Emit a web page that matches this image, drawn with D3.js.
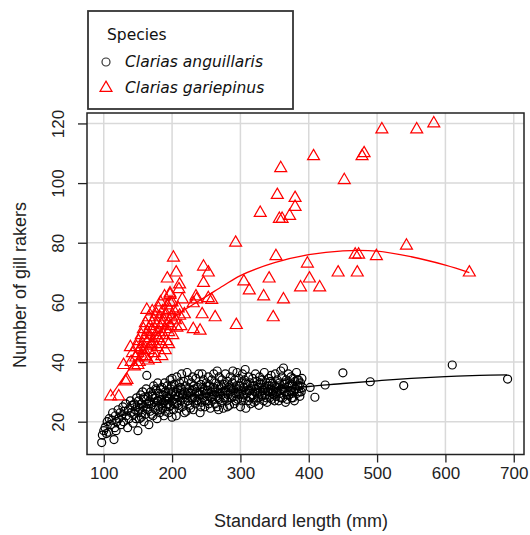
<!DOCTYPE html>
<html>
<head>
<meta charset="utf-8">
<script src="https://cdn.jsdelivr.net/npm/d3@7"></script>
<style>
  body { margin: 0; background: #fff; }
  svg { display: block; }
</style>
</head>
<body>
<svg width="530" height="535"></svg>
<script>
// tick labels
var xTicks = [100, 200, 300, 400, 500, 600, 700];
var yTicks = [20, 40, 60, 80, 100, 120];
var speciesNames = ["Clarias anguillaris", "Clarias gariepinus"];

// Clarias anguillaris: [standard length, gill rakers]
var anguillaris = [
  [97,13],[98,15.5],[100,17],[102,18],[104,16],[105,20],[107,16.5],[108,21],[110,19],[112,20.5],
  [113,23],[115,14],[116,18],[117,22],[119,20],[118,17],
  [121,24],[122,21],[124,23],[125,19],[126,22],[128,25],[129,20],[130,23.5],[132,26],[133,22],
  [135,18],[136,24],[137,21],[139,27],[140,23],[141,25.5],[143,19.5],[144,22.5],[145,26],[146,24],
  [147,21],[148,28],[149,25],[150,17],[150,23],
  [151,27],[152,21],[153,24.5],[154,29],[155,26],[156,23],[157,30],[158,25],[159,20],[160,27.5],
  [161,22.5],[162,31],[163,35.5],[163,26],[164,24],[165,28.5],[166,19],[167,27],[168,23.5],[169,30],
  [170,25.5],[171,29],[172,22],[173,32],[174,26.5],[175,28],[176,24],[177,30.5],[178,21],[178,27],
  [179,33],[180,25],[181,29.5],[182,23],[183,31],[184,27.5],[185,26],[185,31.5],[186,24.5],[187,29],
  [188,22],[189,33],[190,27],[190,30],[191,25],[192,28.5],[193,32],[194,26],[195,23],[195,30],
  [196,28],[197,34],[198,25.5],[198,31],[199,29],[200,21.5],[200,27],[200,34.5],
  [201,30],[202,24],[203,32.5],[204,27.5],[205,29],[206,22],[207,35],[207,26],[208,31],[209,28.5],
  [210,24.5],[211,33],[212,29.5],[213,27],[214,36],[214,31],[215,25],[216,28],[217,33.5],[218,30],
  [219,26.5],[220,32],[221,23.5],[222,36.5],[222,29],[223,27],[224,34],[225,31],[226,25.5],[227,29.5],
  [228,33],[229,27.5],[230,35],[230,30.5],[231,24],[232,32],[233,28],[234,26],[235,34.5],[236,30],
  [237,31.5],[238,27],[239,36],[240,29],[241,23],[242,32.5],[243,26.5],[244,36],[244,30],[245,28],
  [246,34],[247,31],[248,25],[249,29.5],[250,33],
  [251,27],[252,30.5],[253,35],[254,28.5],[255,32],[256,24.5],[257,30],[258,34],[259,27.5],[260,31.5],
  [261,36],[262,29],[263,26],[264,33],[265,30],[266,37],[267,28],[268,32],[268,24],[269,35],
  [270,29.5],[271,31],[272,26.5],[273,34],[274,30],[275,24.5],[276,32.5],[277,28],[278,36],[279,30.5],
  [280,27],[281,33.5],[282,29],[283,31.5],[284,25.5],[285,35],[286,30],[287,28],[288,33],[289,37],
  [290,31],[291,26],[292,34],[293,29.5],[294,32],[295,36.5],[296,27.5],[297,31],[298,34.5],[299,29],
  [300,25],
  [301,33],[302,30],[303,36],[304,28],[305,31.5],[306,34],[307,37.5],[308,24.5],[309,29.5],[310,32.5],
  [311,27],[312,35],[313,30.5],[314,33],[315,26],[316,31],[317,29],[318,34.5],[319,28],[320,32],
  [321,30],[322,36],[323,27],[324,33.5],[325,29.5],[326,31.5],[327,25.5],[328,35],[329,30],[330,32.5],
  [331,28.5],[332,34],[333,30.5],[334,27],[335,36.5],[336,31],[337,29],[338,33],[339,26.5],[340,30],
  [341,34.5],[342,32],[343,28],[344,31],[345,35.5],[346,27.5],[347,33],[348,30.5],[349,29],[350,32],
  [351,36],[352,28.5],[353,31.5],[354,34],[355,30],[356,27],[357,33],[358,29.5],[359,37],[360,31],
  [361,35],[362,28],[363,38],[364,32.5],[365,30],[366,26.5],[367,34],[368,27.5],[369,31.5],[370,36],
  [371,29],[372,33],[373,30.5],[374,35],[375,28],[376,32],[377,34.5],[378,30],[379,27],[380,33.5],
  [381,31],[382,36.5],[383,29.5],[384,32],[385,34],[386,30],[387,28.5],[388,33],[390,34.5],[391,31.5],
  [155,21.5],[158,28],[162,24.5],[166,26],[170,22.5],[172,28.5],[176,31],[180,27],[183,24],[187,26.5],
  [190,23.5],[193,28],[196,25],[199,32],[203,26],[206,30],[209,25.5],[212,31.5],[215,29],[218,23],
  [221,28],[224,30],[227,24.5],[230,28],[233,31],[236,27],[239,29.5],[242,25],[245,31.5],[248,27],
  [251,32],[254,26],[257,28],[260,29],[263,31],[266,25],[269,27.5],[272,32],[275,28],[278,30],
  [281,25],[284,32],[287,31],[290,28.5],[293,27],[296,30],[299,32],[302,27],[305,29],[308,33],
  [311,30.5],[314,28],[317,32],[320,26.5],[323,31],[326,28],[329,33],[332,29],[335,31.5],[338,28],
  [341,30],[344,33.5],[347,29.5],[350,27],[353,30],[356,32],[359,28],[362,31],[365,33],[368,29],
  [371,32],[374,30],[377,28],[380,31],[383,34],[386,32],[389,30],
  [402,31.5],[409,28.2],[424,32.3],[450,36.4],[490,33.4],[539,32.1],[610,39],[691,34.3]
];

// Clarias gariepinus: [standard length, gill rakers]
var gariepinus = [
  [507,118],[558,118],[583,120],[407,109],[478,109],[481,110],[452,101],[359,105],[354,96],[380,95],
  [380,92],[372,89],[361,88],[357,88],[329,90],[293,80],[543,79],[468,76],[473,76],[499,75.5],
  [635,70],[398,73],[443,70],[471,70],[401,68],[388,65],[416,65],[202,75],[352,75.5],[206,70],
  [246,72],[253,70],[193,68],[246,66.5],[211,66],[210,64.4],[305,67],[342,68],[313,64],[334,62],
  [363,61],[235,62],[197,62.5],[197,60],[163,57.5],[231,59.7],[236,61],[253,61.4],[258,60.8],[244,56],
  [263,55],[348,55],[294,52.4],[231,51],[241,50.5],[110,28.5],[122,28.5],[134,34],[129,39],[132,33.5],
  [139,45],
  [140,40],[142,43],[145,38.5],[147,41.5],[148,45],[150,43],[151,47],[152,40],[154,44.5],[155,49],
  [156,42],[157,46],[158,51],[159,44],[160,48],[161,53],[162,41.5],[163,46.5],[164,50],[165,44],
  [166,55],[167,48],[168,52],[169,45.5],[170,50.5],[171,57],[172,47],[173,54],[174,43],[175,51],
  [176,49],[177,56],[178,45],[179,53],[180,58],[180,48],[181,50],[182,55],[183,60],[184,46],
  [185,52.5],[186,57],[187,49],[188,54],[189,62],[190,51],[191,56],[192,47],[193,59],[194,53],
  [195,50],[196,57.5],[197,63],[198,52],[199,55],[200,60],[201,49],[203,57],[205,54],[207,51.5],
  [209,58],[211,55.5],[213,52],[215,61],[218,56],[160,42],[170,46],[150,39],[175,41],[185,42],
  [190,44],[165,40.5],[195,46]
];

// fitted curves
var anguillarisFitX = [97, 120, 150, 200, 250, 300, 350, 400, 450, 500, 550, 600, 650, 690];
var anguillarisFitY = [19, 21.5, 24.5, 27.5, 29.3, 30.5, 31.3, 31.8, 32.8, 33.7, 34.5, 35.1, 35.5, 35.7];
var gariepinusFitX = [110, 125, 140, 160, 180, 200, 225, 250, 275, 300, 350, 400, 450, 500, 550, 600, 635];
var gariepinusFitY = [28.5, 33.5, 38.5, 44.5, 50, 54.5, 58.5, 62, 65.6, 69, 73.3, 76, 77.3, 77.2, 75.3, 72.5, 70];

var plotLeft = 87, plotRight = 524, plotTop = 113, plotBottom = 454.5;
var svg = d3.select("svg");

var xs = d3.scaleLinear().domain([75.5, 715]).range([plotLeft, plotRight]);
var ys = d3.scaleLinear().domain([9, 123.5]).range([plotBottom, plotTop]);

// grid
var grid = svg.append("g").attr("stroke", "#d9d9d9").attr("stroke-width", 1.5);
grid.selectAll(".gx").data(xTicks).enter().append("line")
    .attr("x1", function(d){return xs(d)}).attr("x2", function(d){return xs(d)})
    .attr("y1", plotTop).attr("y2", plotBottom);
grid.selectAll(".gy").data(yTicks).enter().append("line")
    .attr("x1", plotLeft).attr("x2", plotRight)
    .attr("y1", function(d){return ys(d)}).attr("y2", function(d){return ys(d)});

// axes
var xAxis = svg.append("g")
    .attr("transform", "translate(0," + plotBottom + ")")
    .call(d3.axisBottom(xs).tickValues(xTicks).tickSize(8).tickPadding(4));
var yAxis = svg.append("g")
    .attr("transform", "translate(" + plotLeft + ",0)")
    .call(d3.axisLeft(ys).tickValues(yTicks).tickSize(9));
[xAxis, yAxis].forEach(function(a){
  a.select(".domain").remove();
  a.selectAll("line").attr("stroke", "#222").attr("stroke-width", 1.3);
  a.selectAll("text").attr("font-family", "'Liberation Sans', Arial, sans-serif")
    .attr("font-size", 17).attr("fill", "#222");
});
yAxis.selectAll("text")
    .attr("transform", "rotate(-90)")
    .attr("x", 0).attr("y", -23).attr("dy", 0)
    .attr("text-anchor", "middle");

// frame
svg.append("rect")
    .attr("x", plotLeft).attr("y", plotTop)
    .attr("width", plotRight - plotLeft).attr("height", plotBottom - plotTop)
    .attr("fill", "none").attr("stroke", "#222").attr("stroke-width", 1.5);

// points
svg.append("g").selectAll("circle").data(anguillaris).enter().append("circle")
    .attr("cx", function(d){return xs(d[0])})
    .attr("cy", function(d){return ys(d[1])})
    .attr("r", 4)
    .attr("fill", "none").attr("stroke", "#000").attr("stroke-width", 1.2);

var tri = d3.symbol().type(d3.symbolTriangle).size(62);
svg.append("g").selectAll("path").data(gariepinus).enter().append("path")
    .attr("d", tri)
    .attr("transform", function(d){return "translate(" + xs(d[0]) + "," + ys(d[1]) + ")"})
    .attr("fill", "none").attr("stroke", "#ff0000").attr("stroke-width", 1.2);

// fitted lines
var line = d3.line()
    .x(function(d){return xs(d[0])})
    .y(function(d){return ys(d[1])})
    .curve(d3.curveCatmullRom);
svg.append("path")
    .attr("d", line(d3.zip(anguillarisFitX, anguillarisFitY)))
    .attr("fill", "none").attr("stroke", "#000").attr("stroke-width", 1.3);
svg.append("path")
    .attr("d", line(d3.zip(gariepinusFitX, gariepinusFitY)))
    .attr("fill", "none").attr("stroke", "#ff0000").attr("stroke-width", 1.3);

// axis titles
svg.append("text")
    .attr("x", 301).attr("y", 527)
    .attr("text-anchor", "middle")
    .attr("font-family", "'Liberation Sans', Arial, sans-serif")
    .attr("font-size", 18).attr("fill", "#222")
    .text("Standard length (mm)");
svg.append("text")
    .attr("transform", "translate(26,285) rotate(-90)")
    .attr("text-anchor", "middle")
    .attr("font-family", "'Liberation Sans', Arial, sans-serif")
    .attr("font-size", 18).attr("fill", "#222")
    .text("Number of gill rakers");

// legend
var legend = svg.append("g");
legend.append("rect")
    .attr("x", 88).attr("y", 11).attr("width", 205).attr("height", 98)
    .attr("fill", "#fff").attr("stroke", "#333").attr("stroke-width", 1.8);
legend.append("text")
    .attr("x", 107).attr("y", 40)
    .attr("font-family", "'DejaVu Sans', Verdana, sans-serif")
    .attr("font-size", 15.5).attr("fill", "#111")
    .text("Species");
legend.append("circle")
    .attr("cx", 106).attr("cy", 62).attr("r", 4)
    .attr("fill", "none").attr("stroke", "#333").attr("stroke-width", 1.2);
legend.append("path")
    .attr("d", tri)
    .attr("transform", "translate(106,88)")
    .attr("fill", "none").attr("stroke", "#ff0000").attr("stroke-width", 1.2);
legend.selectAll(".lab").data(speciesNames).enter().append("text")
    .attr("x", 125)
    .attr("y", function(d,i){return 67 + i * 26})
    .attr("font-family", "'DejaVu Sans', Verdana, sans-serif")
    .attr("font-style", "italic")
    .attr("font-size", 15.5).attr("fill", "#111")
    .text(function(d){return d});
</script>
</body>
</html>
